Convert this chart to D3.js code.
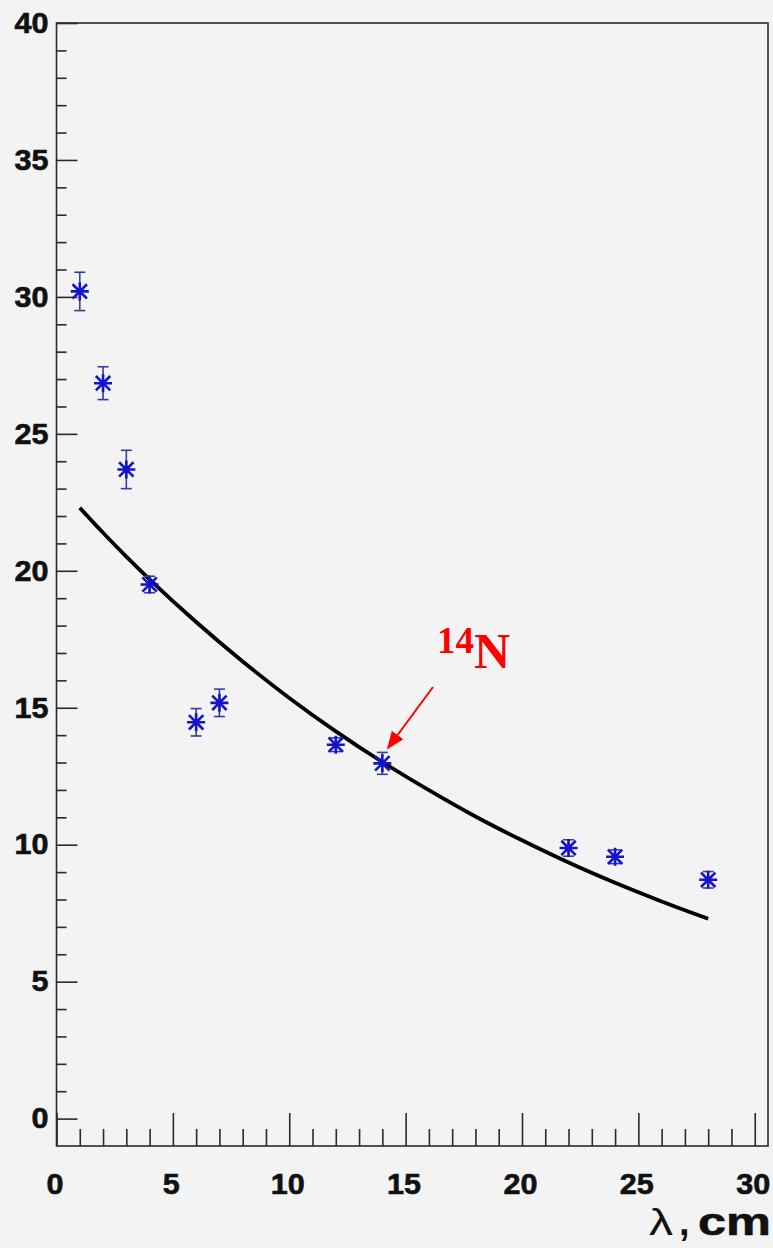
<!DOCTYPE html>
<html>
<head>
<meta charset="utf-8">
<script src="https://cdn.jsdelivr.net/npm/d3@7"></script>
<style>
  html, body { margin: 0; padding: 0; background: #f3f3f3; }
  svg { display: block; }
</style>
</head>
<body>
<svg id="chart" width="773" height="1248"></svg>
<script>
// Measured points: distance λ (cm), value and its uncertainty
const lambdaCm = [1, 2, 3, 4, 6, 7, 12, 14, 22, 24, 28];
const values   = [30.2, 26.85, 23.7, 19.5, 14.47, 15.18, 13.65, 12.97, 9.88, 9.56, 8.72];
const errors   = [0.7, 0.6, 0.7, 0.3, 0.5, 0.5, 0.25, 0.4, 0.3, 0.25, 0.3];

// Fitted curve sampled along λ
const fitX = [1, 2, 3, 4, 6, 8, 10, 12, 14, 16, 18, 20, 22, 24, 26, 28];
const fitY = [22.30, 21.39, 20.52, 19.69, 18.13, 16.69, 15.36, 14.14, 13.02, 11.99, 11.03, 10.16, 9.35, 8.61, 7.93, 7.30];

// Axis tick labels
const xTickLabels = [0, 5, 10, 15, 20, 25, 30];
const yTickLabels = [0, 5, 10, 15, 20, 25, 30, 35, 40];

const svg = d3.select("#chart");

const x = d3.scaleLinear().domain([0, 30.57]).range([56.5, 768]);
const y = d3.scaleLinear().domain([-1, 40]).range([1146, 23]);

const labelFont = "'Liberation Sans', Arial, Helvetica, sans-serif";

// Frame
svg.append("rect")
  .attr("x", x.range()[0]).attr("y", y.range()[1])
  .attr("width", x.range()[1] - x.range()[0])
  .attr("height", y.range()[0] - y.range()[1])
  .attr("fill", "none").attr("stroke", "#2a2a2a").attr("stroke-width", 1.6);

// X axis: minor ticks every unit, major ticks with labels every 5
const xMinor = d3.range(0, 31).filter(v => v % 5 !== 0);
const gxMinor = svg.append("g").attr("transform", `translate(0,${y.range()[0]})`)
  .call(d3.axisBottom(x).tickValues(xMinor).tickSize(-17).tickFormat(""));
const gxMajor = svg.append("g").attr("transform", `translate(0,${y.range()[0]})`)
  .call(d3.axisBottom(x).tickValues(xTickLabels).tickSize(-33).tickPadding(27).tickFormat(d3.format("d")));

// Y axis: minor ticks every unit, major ticks with labels every 5
const yMinor = d3.range(0, 41).filter(v => v % 5 !== 0);
const gyMinor = svg.append("g").attr("transform", `translate(${x.range()[0]},0)`)
  .call(d3.axisLeft(y).tickValues(yMinor).tickSize(-10).tickFormat(""));
const gyMajor = svg.append("g").attr("transform", `translate(${x.range()[0]},0)`)
  .call(d3.axisLeft(y).tickValues(yTickLabels).tickSize(-21).tickPadding(8).tickFormat(d3.format("d")));

[gxMinor, gxMajor, gyMinor, gyMajor].forEach(g => {
  g.select(".domain").remove();
  g.selectAll(".tick line").attr("stroke", "#2a2a2a").attr("stroke-width", 1.6);
  g.selectAll("text")
    .attr("fill", "#111")
    .attr("stroke", "#111")
    .attr("stroke-width", 0.6)
    .attr("font-family", labelFont)
    .attr("font-weight", "bold")
    .attr("font-size", 29)
    .attr("textLength", function () { return 17 * this.textContent.length; })
    .attr("lengthAdjust", "spacingAndGlyphs");
});
gxMajor.selectAll("text").attr("dx", -2);

// Axis title: λ , cm
const title = svg.append("g").attr("fill", "#111").attr("font-family", labelFont);
title.append("text")
  .attr("x", 649).attr("y", 1235)
  .attr("font-size", 36)
  .attr("textLength", 24).attr("lengthAdjust", "spacingAndGlyphs")
  .text("λ");
title.append("text")
  .attr("x", 679).attr("y", 1235)
  .attr("font-size", 38).attr("font-weight", "bold")
  .text(",");
title.append("text")
  .attr("x", 698).attr("y", 1235)
  .attr("font-size", 38).attr("font-weight", "bold")
  .attr("stroke", "#111").attr("stroke-width", 0.6)
  .attr("textLength", 73).attr("lengthAdjust", "spacingAndGlyphs")
  .text("cm");

// Fitted curve
const fitPts = fitX.map((v, i) => [v, fitY[i]]);
svg.append("path")
  .datum(fitPts)
  .attr("fill", "none")
  .attr("stroke", "#000")
  .attr("stroke-width", 3.8)
  .attr("stroke-linecap", "butt")
  .attr("d", d3.line().x(d => x(d[0])).y(d => y(d[1])).curve(d3.curveMonotoneX));

// Error bars
const pts = lambdaCm.map((v, i) => ({ l: v, v: values[i], e: errors[i] }));
const eb = svg.append("g").attr("stroke", "#3a3aa0").attr("stroke-width", 1.6).attr("fill", "none");
pts.forEach(p => {
  const cx = x(p.l), top = y(p.v + p.e), bot = y(p.v - p.e);
  eb.append("line").attr("x1", cx).attr("x2", cx).attr("y1", top).attr("y2", bot);
  eb.append("line").attr("x1", cx - 5.5).attr("x2", cx + 5.5).attr("y1", top).attr("y2", top);
  eb.append("line").attr("x1", cx - 5.5).attr("x2", cx + 5.5).attr("y1", bot).attr("y2", bot);
});

// Star markers
const r = 9, rd = r * 0.8;
const starPath = `M${-r},0L${r},0M0,${-r}L0,${r}M${-rd},${-rd}L${rd},${rd}M${-rd},${rd}L${rd},${-rd}`;
svg.append("g").selectAll("path").data(pts).join("path")
  .attr("transform", p => `translate(${x(p.l)},${y(p.v)})`)
  .attr("d", starPath)
  .attr("fill", "none")
  .attr("stroke", "#1414cc")
  .attr("stroke-width", 2.6);

// Annotation: 14N with arrow pointing to the λ = 14 cm point
svg.append("defs").append("marker")
  .attr("id", "arrowhead")
  .attr("viewBox", "0 0 10 10")
  .attr("refX", 9).attr("refY", 5)
  .attr("markerWidth", 18).attr("markerHeight", 18)
  .attr("markerUnits", "userSpaceOnUse")
  .attr("orient", "auto")
  .append("path").attr("d", "M0,1L10,5L0,9Z").attr("fill", "#ff0000");
svg.append("line")
  .attr("x1", 433).attr("y1", 687)
  .attr("x2", 388).attr("y2", 748)
  .attr("stroke", "#ff0000").attr("stroke-width", 2)
  .attr("marker-end", "url(#arrowhead)");

const ann = svg.append("text")
  .attr("x", 437).attr("y", 668)
  .attr("fill", "#ff0000")
  .attr("font-family", "'Liberation Serif', 'Times New Roman', serif")
  .attr("font-weight", "bold");
ann.append("tspan").attr("font-size", 37).attr("dy", -15).text("14");
ann.append("tspan").attr("font-size", 50).attr("dy", 15).text("N");
</script>
</body>
</html>
